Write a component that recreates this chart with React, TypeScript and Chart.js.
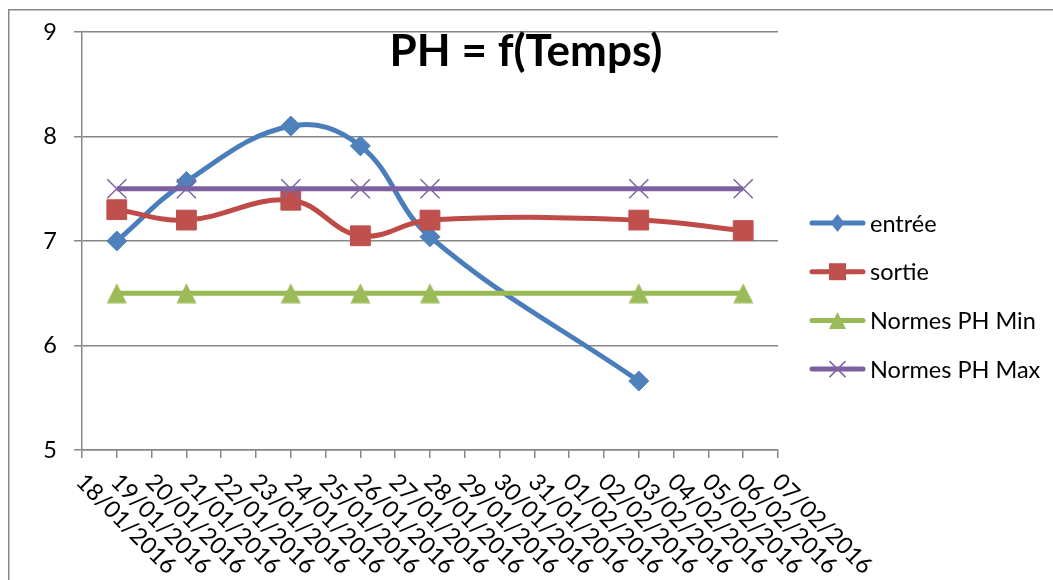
import React, { useEffect, useRef } from 'react';
import { Chart, registerables } from 'chart.js';

Chart.register(...registerables);

// ---- data ----
const dates = [
  '18/01/2016', '19/01/2016', '20/01/2016', '21/01/2016', '22/01/2016', '23/01/2016', '24/01/2016',
  '25/01/2016', '26/01/2016', '27/01/2016', '28/01/2016', '29/01/2016', '30/01/2016', '31/01/2016',
  '01/02/2016', '02/02/2016', '03/02/2016', '04/02/2016', '05/02/2016', '06/02/2016', '07/02/2016',
];
const entreeDates = ['19/01/2016', '21/01/2016', '24/01/2016', '26/01/2016', '28/01/2016', '03/02/2016'];
const entreeValues = [7.0, 7.57, 8.1, 7.91, 7.04, 5.66];
const mesureDates = ['19/01/2016', '21/01/2016', '24/01/2016', '26/01/2016', '28/01/2016', '03/02/2016', '06/02/2016'];
const sortieValues = [7.3, 7.2, 7.39, 7.05, 7.2, 7.2, 7.1];
const normeMinValues = [6.5, 6.5, 6.5, 6.5, 6.5, 6.5, 6.5];
const normeMaxValues = [7.5, 7.5, 7.5, 7.5, 7.5, 7.5, 7.5];
const seriesNames = ['entrée', 'sortie', 'Normes PH Min', 'Normes PH Max'];
const chartTitle = 'PH = f(Temps)';
const yMin = 5;
const yMax = 9;

const lineColors = ['#4A7EBB', '#BE4B48', '#98B954', '#7D60A0'];
const markerColors = ['#4F81BD', '#C0504D', '#9BBB59', '#8064A2'];
const FONT = 'Lato, "Open Sans", sans-serif';

function toPoints(xs: string[], ys: number[]) {
  return xs.map((x, i) => ({ x, y: ys[i] }));
}

function makeTriangle(size: number, color: string) {
  const c = document.createElement('canvas');
  c.width = size;
  c.height = size;
  const g = c.getContext('2d')!;
  g.fillStyle = color;
  g.beginPath();
  g.moveTo(size / 2, 0.5);
  g.lineTo(size - 0.5, size - 0.5);
  g.lineTo(0.5, size - 0.5);
  g.closePath();
  g.fill();
  return c;
}

function drawMarker(ctx: CanvasRenderingContext2D, kind: number, x: number, y: number) {
  ctx.save();
  ctx.fillStyle = markerColors[kind];
  ctx.strokeStyle = markerColors[kind];
  ctx.beginPath();
  if (kind === 0) {
    ctx.moveTo(x, y - 9);
    ctx.lineTo(x + 7, y);
    ctx.lineTo(x, y + 9);
    ctx.lineTo(x - 7, y);
    ctx.closePath();
    ctx.fill();
  } else if (kind === 1) {
    ctx.rect(x - 8.5, y - 8.5, 17, 17);
    ctx.fill();
  } else if (kind === 2) {
    ctx.moveTo(x, y - 8.5);
    ctx.lineTo(x + 8.5, y + 8.5);
    ctx.lineTo(x - 8.5, y + 8.5);
    ctx.closePath();
    ctx.fill();
  } else {
    ctx.lineWidth = 1.5;
    ctx.moveTo(x - 8, y - 8);
    ctx.lineTo(x + 8, y + 8);
    ctx.moveTo(x + 8, y - 8);
    ctx.lineTo(x - 8, y + 8);
    ctx.stroke();
  }
  ctx.restore();
}

const decorPlugin = {
  id: 'decor',
  afterDraw(chart: any) {
    const ctx: CanvasRenderingContext2D = chart.ctx;
    ctx.save();
    // outer border
    ctx.strokeStyle = '#868686';
    ctx.lineWidth = 1.5;
    ctx.strokeRect(0.75, 1.75, chart.width + 20, chart.height + 20);

    // title
    ctx.fillStyle = '#000';
    ctx.font = `bold 44px ${FONT}`;
    ctx.textAlign = 'center';
    ctx.textBaseline = 'alphabetic';
    ctx.fillText(chartTitle, 518, 58);

    // x labels rotated 45° clockwise
    const xs = chart.scales.x;
    ctx.font = `23.5px ${FONT}`;
    ctx.textAlign = 'left';
    ctx.textBaseline = 'middle';
    const labels: string[] = xs.getLabels();
    labels.forEach((lab, i) => {
      const px = xs.getPixelForTick(i);
      ctx.save();
      ctx.translate(px - 2, xs.top + 28);
      ctx.rotate(Math.PI / 4);
      ctx.fillText(lab, 0, 0);
      ctx.restore();
    });

    // legend
    const ly0 = 215;
    const step = 48.7;
    seriesNames.forEach((name, i) => {
      const y = ly0 + i * step;
      ctx.save();
      ctx.strokeStyle = lineColors[i];
      ctx.lineWidth = 5;
      ctx.lineCap = 'round';
      ctx.beginPath();
      ctx.moveTo(804, y);
      ctx.lineTo(855, y);
      ctx.stroke();
      ctx.restore();
      drawMarker(ctx, i, 829.5, y);
      ctx.fillStyle = '#000';
      ctx.font = `23.5px ${FONT}`;
      ctx.textAlign = 'left';
      ctx.textBaseline = 'middle';
      ctx.fillText(name, 862, y + 1);
    });
    ctx.restore();
  },
};

export default function App() {
  const ref = useRef<HTMLCanvasElement>(null);

  useEffect(() => {
    if (!ref.current) return;
    const tri = makeTriangle(21, markerColors[2]);
    const chart = new Chart(ref.current, {
      type: 'line',
      data: {
        labels: dates,
        datasets: [
          {
            label: seriesNames[0],
            data: toPoints(entreeDates, entreeValues),
            borderColor: lineColors[0],
            backgroundColor: markerColors[0],
            borderWidth: 5,
            pointStyle: 'rectRot',
            pointRadius: 10,
            pointBorderWidth: 1,
            pointBorderColor: markerColors[0],
            pointBackgroundColor: markerColors[0],
            tension: 0.4,
            order: 4,
          },
          {
            label: seriesNames[1],
            data: toPoints(mesureDates, sortieValues),
            borderColor: lineColors[1],
            backgroundColor: markerColors[1],
            borderWidth: 5,
            pointStyle: 'rect',
            pointRadius: 14,
            pointBorderWidth: 1,
            pointBorderColor: markerColors[1],
            pointBackgroundColor: markerColors[1],
            tension: 0.4,
            order: 3,
          },
          {
            label: seriesNames[2],
            data: toPoints(mesureDates, normeMinValues),
            borderColor: lineColors[2],
            backgroundColor: markerColors[2],
            borderWidth: 5,
            pointStyle: tri as any,
            pointRadius: 10,
            tension: 0,
            order: 2,
          },
          {
            label: seriesNames[3],
            data: toPoints(mesureDates, normeMaxValues),
            borderColor: lineColors[3],
            backgroundColor: 'transparent',
            borderWidth: 5,
            pointStyle: 'crossRot',
            pointRadius: 13.5,
            pointBorderWidth: 1.5,
            pointBorderColor: markerColors[3],
            tension: 0,
            order: 1,
          },
        ],
      },
      options: {
        responsive: false,
        animation: false,
        spanGaps: true,
        layout: { padding: { top: 24, right: 275, bottom: 0, left: 0 } },
        plugins: {
          legend: { display: false },
          title: { display: false },
          tooltip: { enabled: false },
        },
        scales: {
          x: {
            type: 'category',
            offset: false,
            grid: {
              display: true,
              drawOnChartArea: false,
              drawTicks: true,
              tickLength: 8,
              color: '#868686',
              lineWidth: 1.5,
            },
            border: { display: true, color: '#868686', width: 1.5 },
            ticks: { display: false, autoSkip: false },
            afterFit(scale: any) {
              scale.height = 130;
              scale.paddingLeft = 0;
              scale.paddingRight = 0;
            },
          },
          y: {
            min: yMin,
            max: yMax,
            grid: {
              color: '#868686',
              lineWidth: 1.5,
              tickLength: 8,
              drawTicks: true,
            },
            border: { display: true, color: '#868686', width: 1.5 },
            ticks: {
              stepSize: 1,
              padding: 17,
              color: '#000',
              font: { family: FONT, size: 23.5 },
            },
            afterFit(scale: any) {
              scale.width = 74;
              scale.paddingTop = 0;
              scale.paddingBottom = 0;
            },
          },
        },
      },
      plugins: [decorPlugin],
    });
    return () => chart.destroy();
  }, []);

  return (
    <div style={{ position: 'fixed', left: 8, top: 8 }}>
      <canvas ref={ref} width={1045} height={572} style={{ display: 'block' }} />
    </div>
  );
}
